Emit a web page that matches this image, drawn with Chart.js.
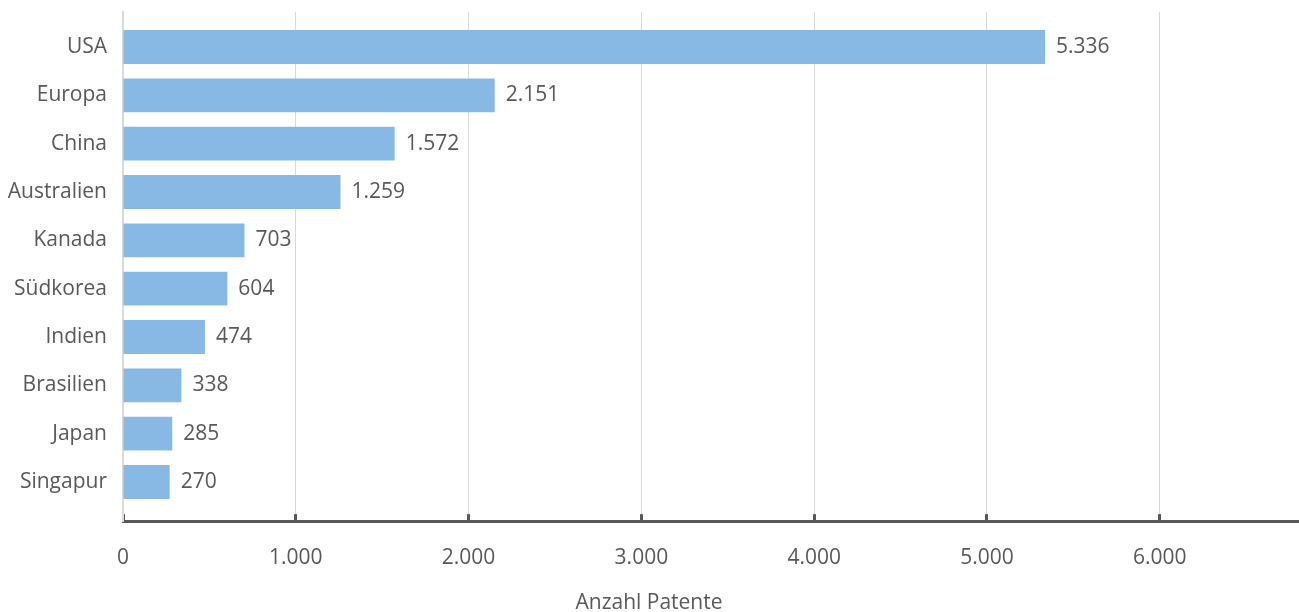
<!DOCTYPE html>
<html>
<head>
<meta charset="utf-8">
<script src="https://cdn.jsdelivr.net/npm/chart.js@4"></script>
<style>
  html, body { margin: 0; padding: 0; background: #fff; }
  #wrap { width: 1299px; height: 612px; position: relative; }
</style>
</head>
<body>
<div id="wrap"><canvas id="chart"></canvas></div>
<script>
// Data
const countries = ['USA', 'Europa', 'China', 'Australien', 'Kanada', 'Südkorea', 'Indien', 'Brasilien', 'Japan', 'Singapur'];
const patents = [5336, 2151, 1572, 1259, 703, 604, 474, 338, 285, 270];
const xTicks = [0, 1000, 2000, 3000, 4000, 5000, 6000];

const textColor = '#595959';
const fontFamily = '"Open Sans", "DejaVu Sans", sans-serif';

// German thousands separator
function fmt(n) {
  return String(n).replace(/\B(?=(\d{3})+(?!\d))/g, '.');
}

// Value labels at the end of each bar
const valueLabels = {
  id: 'valueLabels',
  afterDatasetsDraw(chart) {
    const ctx = chart.ctx;
    const meta = chart.getDatasetMeta(0);
    ctx.save();
    ctx.font = '21px ' + fontFamily;
    ctx.fillStyle = textColor;
    ctx.textAlign = 'left';
    ctx.textBaseline = 'middle';
    meta.data.forEach(function(bar, i) {
      ctx.fillText(fmt(patents[i]), bar.x + 11, bar.y);
    });
    ctx.restore();
  }
};

const ctx = document.getElementById('chart').getContext('2d');
new Chart(ctx, {
  type: 'bar',
  data: {
    datasets: [{
      data: patents.map((v, i) => ({ x: v, y: i })),
      backgroundColor: '#88b9e5',
      borderWidth: 0,
      categoryPercentage: 0.7,
      barPercentage: 1
    }]
  },
  options: {
    indexAxis: 'y',
    responsive: true,
    maintainAspectRatio: false,
    animation: false,
    layout: { padding: { top: 12, right: 1, left: 0, bottom: 0 } },
    plugins: {
      legend: { display: false },
      tooltip: { enabled: false },
      title: {
        display: true,
        position: 'bottom',
        text: 'Anzahl Patente',
        color: textColor,
        font: { family: fontFamily, size: 21, weight: 'normal', lineHeight: 0.85 },
        padding: { top: 0, bottom: 0 }
      }
    },
    scales: {
      x: {
        type: 'linear',
        min: 0,
        max: 6800,
        afterBuildTicks(scale) {
          scale.ticks = xTicks.map(v => ({ value: v }));
        },
        afterFit(scale) { scale.height = 73; },
        grid: {
          color: '#d9d9d9',
          lineWidth: 1,
          drawTicks: true,
          tickLength: -7,
          tickColor: '#595959',
          tickWidth: 3
        },
        border: { display: true, color: '#595959', width: 3 },
        ticks: {
          color: textColor,
          font: { family: fontFamily, size: 21 },
          padding: 31,
          maxRotation: 0,
          callback: v => fmt(v)
        }
      },
      y: {
        type: 'linear',
        reverse: true,
        offset: false,
        min: -0.724,
        max: 9.81,
        afterBuildTicks(scale) {
          scale.ticks = countries.map((c, i) => ({ value: i }));
        },
        afterFit(scale) {
          scale.width = 123;
          scale.paddingTop = 0;
          scale.paddingBottom = 0;
        },
        grid: { display: false, drawTicks: false, offset: false },
        border: { display: true, color: '#d9d9d9', width: 2 },
        ticks: {
          color: textColor,
          font: { family: fontFamily, size: 21 },
          padding: 16,
          autoSkip: false,
          callback: v => countries[v] || ''
        }
      }
    }
  },
  plugins: [valueLabels]
});
</script>
</body>
</html>
